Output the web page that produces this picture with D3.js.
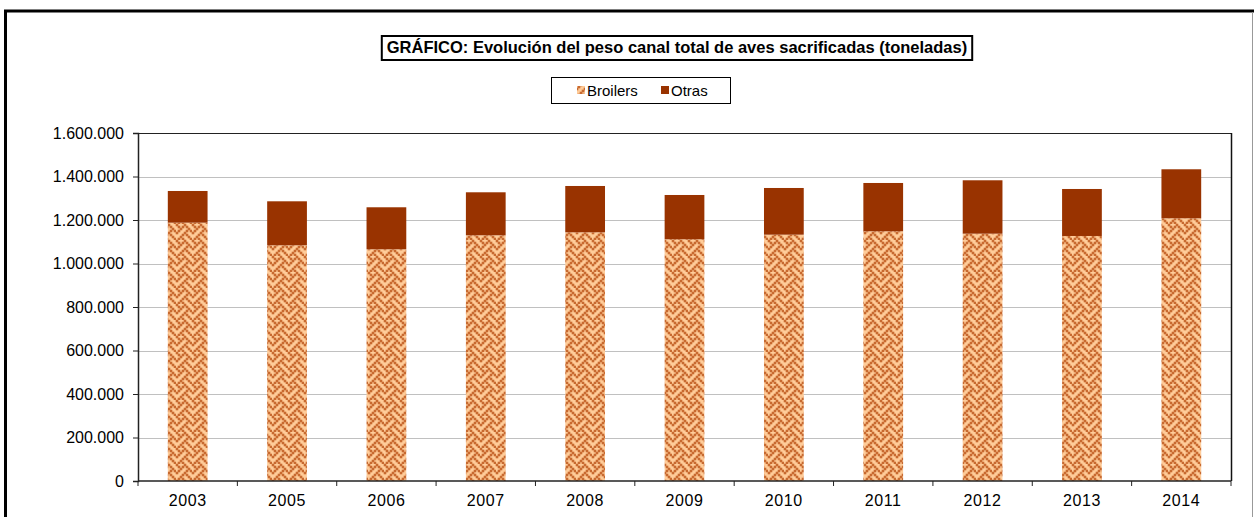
<!DOCTYPE html>
<html><head><meta charset="utf-8">
<script src="https://cdn.jsdelivr.net/npm/d3@7"></script>
<style>html,body{margin:0;padding:0;background:#fff;}svg{display:block;}</style>
</head><body>
<script>
const categories = ["2003","2005","2006","2007","2008","2009","2010","2011","2012","2013","2014"];
const broilers = [1187700,1083700,1065300,1129700,1143500,1111300,1132500,1148100,1137100,1126500,1207900];
const otras    = [145700,202300,193200,197700,212900,203700,214700,222100,245500,216100,225300];
const seriesNames = ["Broilers","Otras"];
const yTicks = [0,200000,400000,600000,800000,1000000,1200000,1400000,1600000];
const titleText = "GRÁFICO: Evolución del peso canal total de aves sacrificadas (toneladas)";

const W = 1254, H = 517;
const font = "'Liberation Sans', Arial, sans-serif";
const svg = d3.select("body").append("svg").attr("width", W).attr("height", H);

// pattern (weave)
const defs = svg.append("defs");
const weave = [0x88,0x54,0x22,0x45,0x88,0x14,0x22,0x51];
const px = 2;
const pat = defs.append("pattern").attr("id","weave").attr("patternUnits","userSpaceOnUse")
  .attr("width", 8*px).attr("height", 8*px);
pat.append("rect").attr("width",8*px).attr("height",8*px).attr("fill","#FFCC99");
weave.forEach((row, r) => {
  for (let c = 0; c < 8; c++) {
    if (row & (0x80 >> c)) {
      [[0,0],[8*px,0],[0,8*px],[8*px,8*px]].forEach(([ox,oy]) =>
        pat.append("rect").attr("x", c*px + ox - 0.3).attr("y", r*px + oy - 0.3)
          .attr("width", px + 0.6).attr("height", px + 0.6).attr("fill", "#C86A30"));
    }
  }
});

// chart area border
svg.append("line").attr("x1",5.5).attr("x2",5.5).attr("y1",10).attr("y2",H).attr("stroke","#000").attr("stroke-width",3);
svg.append("line").attr("x1",4).attr("x2",W).attr("y1",11).attr("y2",11).attr("stroke","#000").attr("stroke-width",3);
svg.append("line").attr("x1",W-1.5).attr("x2",W-1.5).attr("y1",12).attr("y2",H).attr("stroke","#999").attr("stroke-width",1);

const pLeft = 138, pRight = 1231, pTop = 133, pBottom = 481;
const x = d3.scaleBand().domain(categories).range([pLeft, pRight]).paddingInner(0.6).paddingOuter(0.3);
const y = d3.scaleLinear().domain([0, 1600000]).range([pBottom, pTop]);

// gridlines
svg.append("g").selectAll("line").data(yTicks.filter(d => d > 0)).join("line")
  .attr("x1", pLeft).attr("x2", pRight)
  .attr("y1", d => Math.round(y(d)) + 0.5).attr("y2", d => Math.round(y(d)) + 0.5)
  .attr("stroke", d => d === 1600000 ? "#222" : "#c0c0c0").attr("stroke-width", 1);
// plot right border
svg.append("line").attr("x1", pRight+0.5).attr("x2", pRight+0.5).attr("y1", Math.round(y(1600000))).attr("y2", pBottom)
  .attr("stroke","#111").attr("stroke-width",1.5);

// stacked bars
const stackData = categories.map((c, i) => ({cat: c, Broilers: broilers[i], Otras: otras[i]}));
const stacked = d3.stack().keys(seriesNames)(stackData);
const fills = {Broilers: "url(#weave)", Otras: "#993300"};
svg.append("g").selectAll("g").data(stacked).join("g")
  .attr("fill", s => fills[s.key])
  .selectAll("rect").data(s => s).join("rect")
  .attr("x", d => x(d.data.cat))
  .attr("width", x.bandwidth())
  .attr("y", d => y(d[1]))
  .attr("height", d => y(d[0]) - y(d[1]));

// y axis
const yAxis = d3.axisLeft(y).tickValues(yTicks).tickSize(5).tickPadding(9)
  .tickFormat(d => d3.format(",")(d).replace(/,/g, "."));
const gy = svg.append("g").attr("transform", `translate(${pLeft},0)`).call(yAxis);
gy.select(".domain").attr("stroke","#222").attr("stroke-width",1.5);
gy.selectAll(".tick line").attr("stroke","#222");
gy.selectAll("text").attr("font-family", font).attr("font-size", 16).attr("fill","#000");

// x axis
const gx = svg.append("g").attr("transform", `translate(0,${pBottom})`);
gx.append("line").attr("x1", pLeft).attr("x2", pRight).attr("stroke","#222").attr("stroke-width",1.5);
const bounds = categories.map(c => x(c) - x.step()*x.paddingOuter()).concat([pRight]);
gx.selectAll("line.t").data(bounds).join("line").attr("class","t")
  .attr("x1", d => d).attr("x2", d => d).attr("y1", 0).attr("y2", 5).attr("stroke","#222");
gx.selectAll("text").data(categories).join("text")
  .attr("x", d => x(d) + x.bandwidth()/2).attr("y", 25)
  .attr("text-anchor","middle").attr("font-family", font).attr("font-size", 16)
  .attr("letter-spacing", 0.6).attr("fill","#000")
  .text(d => d);

// title
const tg = svg.append("g");
const tt = tg.append("text").attr("x", 677).attr("y", 53).attr("text-anchor","middle")
  .attr("font-family", font).attr("font-weight","bold").attr("font-size", 16.5).text(titleText);
const bb = tt.node().getBBox();
tg.insert("rect","text").attr("x", bb.x - 5).attr("y", 36).attr("width", bb.width + 10).attr("height", 24)
  .attr("fill","#fff").attr("stroke","#000").attr("stroke-width",2);

// legend
const lg = svg.append("g");
lg.append("rect").attr("x", 551.5).attr("y", 77.5).attr("width", 179).attr("height", 26)
  .attr("fill","#fff").attr("stroke","#000").attr("stroke-width",1);
const legendItems = [{name: seriesNames[0], fill: "url(#weave)", sx: 577, tx: 587},
                     {name: seriesNames[1], fill: "#993300", sx: 661, tx: 671}];
legendItems.forEach(it => {
  lg.append("rect").attr("x", it.sx).attr("y", 86).attr("width", 8).attr("height", 8).attr("fill", it.fill);
  lg.append("text").attr("x", it.tx).attr("y", 96).attr("font-family", font).attr("font-size", 15).text(it.name);
});
</script>
</body></html>
